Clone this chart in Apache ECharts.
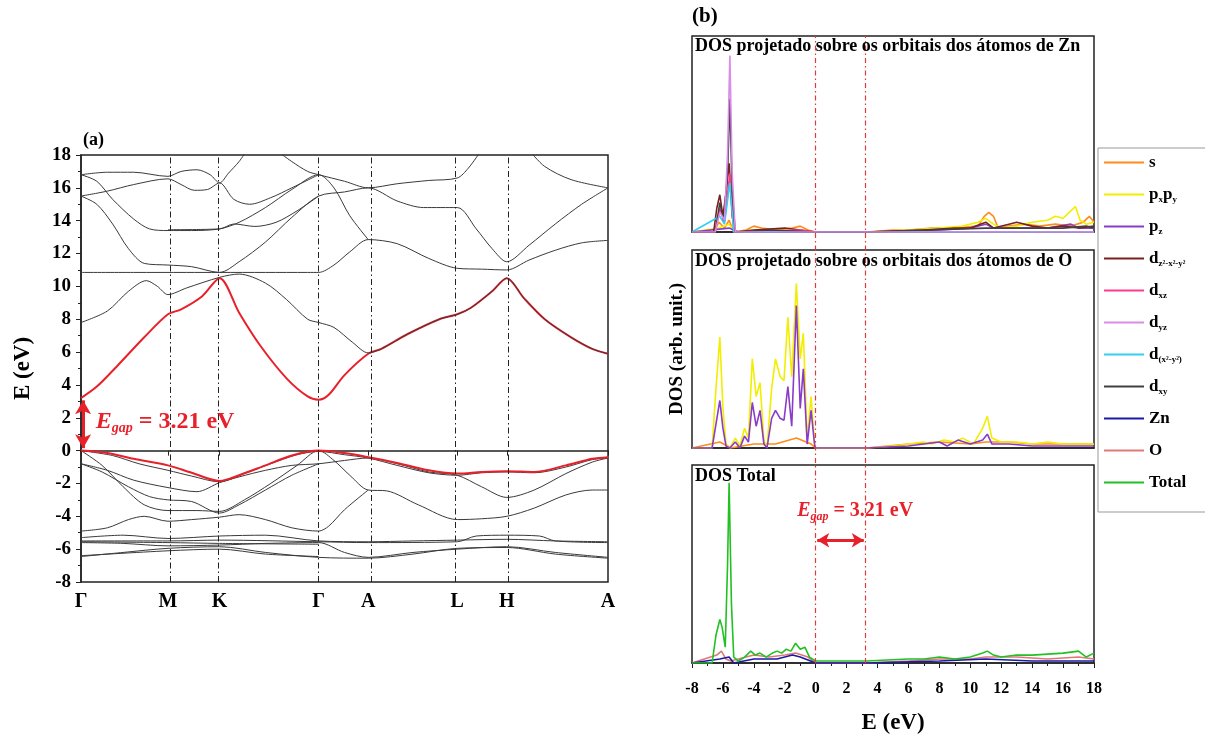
<!DOCTYPE html>
<html><head><meta charset="utf-8">
<script src="https://cdn.jsdelivr.net/npm/echarts@6/dist/echarts.min.js"></script>
<style>html,body{margin:0;padding:0;background:#fff}#c{width:1205px;height:738px}</style>
</head><body><div id="c"></div>
<script>
// ---------- Band structure (panel a) ----------
const kNodes = [0, 0.165, 0.263, 0.451, 0.545, 0.714, 0.808, 1.0];
const kLabels = ['Γ', 'M', 'K', 'Γ', 'A', 'L', 'H', 'A'];
const eTicks = [-8, 18, 2];
const egap = 3.21;

// conduction bands  [k, E(eV)]
const cb1 = [[0,3.2],[0.03,3.9],[0.07,5.2],[0.12,6.9],[0.165,8.3],[0.19,8.6],[0.23,9.4],[0.263,10.5],[0.3,8.4],[0.34,6.4],[0.39,4.4],[0.43,3.3],[0.451,3.1],[0.47,3.4],[0.5,4.6],[0.545,5.9],[0.57,6.2],[0.62,7.1],[0.68,8.0],[0.714,8.3],[0.74,8.7],[0.78,9.7],[0.808,10.5],[0.84,9.3],[0.88,8.0],[0.93,6.9],[0.97,6.2],[1,5.9]];
const cb2 = [[0,7.8],[0.05,8.5],[0.09,9.7],[0.124,10.35],[0.145,10.0],[0.165,9.5],[0.2,9.9],[0.263,10.55],[0.3,10.75],[0.35,10.2],[0.39,9.2],[0.43,8.0],[0.451,7.8],[0.48,7.5],[0.515,6.6],[0.545,5.95],[0.57,6.2],[0.62,7.1],[0.68,8.0],[0.714,8.3],[0.74,8.7],[0.78,9.7],[0.808,10.5],[0.84,9.3],[0.88,8.0],[0.93,6.9],[0.97,6.2],[1,5.9]];
const cb3 = [[0,10.85],[0.1,10.85],[0.2,10.85],[0.263,10.85],[0.35,10.85],[0.43,10.85],[0.451,10.85],[0.48,11.3],[0.51,12.1],[0.545,12.85],[0.6,12.6],[0.66,11.7],[0.714,11.1],[0.76,11.05],[0.808,11.0],[0.85,11.6],[0.9,12.2],[0.95,12.65],[1,12.8]];
const cb4 = [[0,15.5],[0.03,15.0],[0.06,13.8],[0.09,12.3],[0.12,11.4],[0.165,11.3],[0.21,11.2],[0.263,10.85],[0.3,11.5],[0.35,12.7],[0.4,14.2],[0.451,15.5],[0.5,15.75],[0.545,16.0],[0.6,15.2],[0.65,14.8],[0.714,14.8],[0.75,13.5],[0.78,12.3],[0.808,11.5],[0.85,12.5],[0.9,13.8],[0.95,15.0],[1,16.0]];
const cb5 = [[0,16.8],[0.03,16.4],[0.06,15.3],[0.1,14.1],[0.13,13.5],[0.165,13.4],[0.21,13.4],[0.263,13.5],[0.3,13.9],[0.35,14.8],[0.4,15.9],[0.451,16.8],[0.48,16.0],[0.51,14.3],[0.545,12.85]];
const cb6 = [[0.165,13.45],[0.263,13.5],[0.29,13.8],[0.33,13.65],[0.37,13.9],[0.41,14.6],[0.451,15.5]];
const cb7 = [[0,16.8],[0.05,16.95],[0.1,16.95],[0.165,16.7],[0.19,17.0],[0.22,17.1],[0.245,16.8],[0.263,16.3],[0.28,16.9],[0.3,17.6],[0.315,18.3]];
const cb8 = [[0,15.5],[0.05,15.8],[0.1,16.2],[0.165,16.55],[0.19,16.2],[0.215,15.85],[0.24,15.9],[0.263,16.3],[0.29,15.3],[0.32,15.0],[0.36,15.4],[0.4,16.0],[0.451,16.8]];
const cb9 = [[0.37,18.3],[0.4,17.6],[0.43,17.0],[0.451,16.8],[0.5,16.4],[0.545,16.0],[0.6,16.25],[0.66,16.45],[0.714,16.6],[0.735,17.2],[0.76,18.3]];
const cb10 = [[0.85,18.3],[0.88,17.3],[0.93,16.5],[1,16.0]];

// valence bands
const vb1 = [[0,0],[0.05,-0.15],[0.1,-0.5],[0.165,-0.9],[0.21,-1.35],[0.263,-1.85],[0.3,-1.5],[0.35,-0.9],[0.4,-0.3],[0.451,0],[0.5,-0.15],[0.545,-0.4],[0.6,-0.75],[0.66,-1.2],[0.714,-1.4],[0.76,-1.3],[0.808,-1.25],[0.86,-1.3],[0.92,-0.9],[0.97,-0.5],[1,-0.4]];
const vb1b = [[0,0],[0.06,-0.3],[0.11,-0.8],[0.165,-1.2],[0.21,-1.55],[0.263,-1.9],[0.31,-1.4],[0.36,-0.8],[0.41,-0.25],[0.451,-0.05],[0.5,-0.25],[0.545,-0.45],[0.6,-0.9],[0.66,-1.35],[0.714,-1.5],[0.76,-1.35],[0.808,-1.3],[0.86,-1.35],[0.92,-1.0],[0.97,-0.55],[1,-0.45]];
const vb2 = [[0,-0.8],[0.05,-1.2],[0.1,-1.8],[0.165,-2.25],[0.22,-2.5],[0.263,-1.95],[0.3,-1.6],[0.35,-1.2],[0.4,-0.9],[0.451,-0.8],[0.5,-0.6],[0.545,-0.45],[0.6,-0.8],[0.66,-1.3],[0.714,-1.5],[0.76,-2.2],[0.808,-2.85],[0.86,-2.4],[0.92,-1.4],[0.97,-0.7],[1,-0.45]];
const vb3 = [[0,-0.8],[0.04,-1.3],[0.09,-2.2],[0.13,-2.8],[0.165,-3.0],[0.21,-3.1],[0.263,-3.8],[0.3,-3.3],[0.35,-2.4],[0.4,-1.5],[0.451,-0.8]];
const vb4 = [[0,0],[0.04,-0.9],[0.08,-2.2],[0.12,-3.3],[0.165,-3.65],[0.22,-3.65],[0.263,-3.7],[0.31,-3.0],[0.36,-2.0],[0.41,-0.9],[0.451,0],[0.48,-0.6],[0.51,-1.5],[0.545,-2.4],[0.58,-2.45],[0.64,-3.3],[0.714,-4.2],[0.76,-4.15],[0.808,-4.0],[0.86,-3.5],[0.92,-2.7],[0.97,-2.4],[1,-2.4]];
const vb5 = [[0,-4.9],[0.05,-4.7],[0.09,-4.2],[0.12,-4.0],[0.165,-4.3],[0.21,-4.2],[0.263,-4.05],[0.3,-3.9],[0.35,-4.2],[0.4,-4.7],[0.451,-4.9],[0.47,-4.6],[0.5,-3.6],[0.545,-2.4]];
const vd1 = [[0,-5.3],[0.08,-5.15],[0.165,-5.35],[0.263,-5.2],[0.35,-5.15],[0.451,-5.5],[0.545,-5.55],[0.63,-5.5],[0.714,-5.45],[0.808,-5.4],[0.9,-5.5],[1,-5.55]];
const vd2 = [[0,-5.5],[0.165,-5.5],[0.263,-5.45],[0.451,-5.55],[0.545,-5.6],[0.714,-5.55],[0.75,-5.2],[0.808,-5.15],[0.87,-5.2],[0.9,-5.5],[1,-5.6]];
const vd3 = [[0,-5.6],[0.08,-5.65],[0.165,-5.8],[0.263,-5.75],[0.35,-5.65],[0.451,-5.6],[0.5,-6.2],[0.545,-6.5],[0.63,-6.2],[0.714,-6.0],[0.808,-5.85],[0.9,-6.2],[1,-6.5]];
const vd4 = [[0,-6.45],[0.08,-6.2],[0.165,-5.95],[0.263,-5.85],[0.35,-6.2],[0.451,-6.5],[0.545,-6.55],[0.63,-6.3],[0.714,-5.95],[0.808,-5.9],[0.9,-6.3],[1,-6.55]];
const vd5 = [[0,-6.4],[0.165,-6.1],[0.263,-6.0],[0.35,-6.3],[0.451,-6.45]];
const vd6 = [[0,-5.55],[0.165,-5.6],[0.263,-5.65],[0.451,-5.7]];

const blackBands = [cb3, cb4, cb5, cb6, cb7, cb8, cb9, cb10, vb1b, vb2, vb3, vb4, vb5, vd1, vd2, vd3, vd4, vd5, vd6];
const redBands = [cb1, vb1];

// ---------- DOS (panel b)  [E(eV), DOS arb.] ----------
const dosTicks = [-8, 18, 2];
const panelTitles = ['DOS projetado sobre os orbitais dos átomos de Zn', 'DOS projetado sobre os orbitais dos átomos de O', 'DOS Total'];

const zn_s = [[-8,0],[-6.6,0],[-6.25,0.05],[-5.9,0.02],[-5.6,0.06],[-5.3,0],[-4.5,0.01],[-4,0.03],[-3.5,0.02],[-2.5,0.01],[-1.5,0.02],[-1,0.03],[-0.5,0.01],[0,0],[3.3,0],[5,0.01],[6,0.01],[7.5,0.02],[9,0.02],[10.5,0.03],[10.9,0.08],[11.2,0.1],[11.5,0.08],[11.8,0.02],[12.5,0.03],[13.5,0.04],[14.5,0.03],[15.5,0.04],[16.5,0.03],[17.3,0.05],[17.7,0.08],[18,0.05]];
const zn_pxpy = [[-8,0],[-6.3,0.02],[-5.6,0.04],[-5.2,0],[-4,0.01],[-2,0.01],[0,0],[3.3,0],[6,0.01],[8,0.02],[9.5,0.03],[10.5,0.05],[11,0.07],[11.5,0.04],[12,0.02],[13,0.03],[14,0.05],[15,0.06],[15.5,0.08],[16,0.07],[16.4,0.1],[16.8,0.13],[17.1,0.06],[17.5,0.04],[18,0.05]];
const zn_pz = [[-8,0],[-5.6,0.02],[-5,0],[0,0],[3.3,0],[8,0.01],[10,0.02],[11,0.04],[11.5,0.02],[13,0.02],[15,0.02],[16.5,0.04],[17,0.02],[18,0.02]];
const zn_dz2 = [[-8,0],[-6.6,0],[-6.4,0.12],[-6.2,0.19],[-6.0,0.08],[-5.8,0.2],[-5.6,0.35],[-5.4,0.08],[-5.2,0],[-4,0.01],[-2,0.02],[-1,0.01],[0,0],[3.3,0],[7,0.01],[9,0.02],[10,0.02],[11,0.05],[11.5,0.02],[12.5,0.04],[13,0.05],[14,0.03],[15,0.02],[16,0.03],[17,0.02],[18,0.03]];
const zn_dxz = [[-8,0],[-6.5,0],[-6.2,0.12],[-5.9,0.05],[-5.55,0.3],[-5.3,0],[-1,0.01],[0,0],[18,0]];
const zn_dyz = [[-8,0],[-6.5,0],[-6.2,0.1],[-5.9,0.06],[-5.7,0.4],[-5.55,0.9],[-5.4,0.3],[-5.2,0],[18,0]];
const zn_dx2y2 = [[-8,0],[-6.2,0.08],[-5.9,0.04],[-5.55,0.25],[-5.3,0],[18,0]];
const zn_dxy = [[-8,0],[-6.5,0],[-6.2,0.15],[-5.95,0.06],[-5.7,0.3],[-5.55,0.68],[-5.4,0.2],[-5.2,0],[-3,0.01],[0,0],[3.3,0],[11,0.02],[16,0.02],[17.5,0.03],[18,0.02]];

const o_s = [[-8,0],[-6.2,0.03],[-5.5,0],[-4,0.02],[-2.6,0.02],[-1.25,0.05],[-0.3,0.02],[0,0],[3.3,0],[6,0.02],[8,0.03],[10,0.02],[11,0.03],[12.5,0.03],[14,0.02],[16,0.02],[18,0.02]];
const o_pxpy = [[-8,0],[-6.7,0],[-6.45,0.3],[-6.2,0.56],[-6.0,0.2],[-5.8,0.02],[-5.55,0],[-5.2,0.05],[-4.9,0.01],[-4.6,0.1],[-4.35,0.05],[-4.1,0.45],[-3.85,0.26],[-3.6,0.33],[-3.35,0.04],[-3.15,0],[-2.85,0.3],[-2.6,0.45],[-2.3,0.36],[-2.05,0.34],[-1.8,0.66],[-1.55,0.36],[-1.25,0.83],[-1.0,0.45],[-0.8,0.58],[-0.55,0.05],[-0.3,0.26],[-0.05,0],[3.3,0],[5,0.01],[6,0.02],[7,0.03],[7.5,0.02],[8.3,0.04],[9,0.03],[9.5,0.05],[10.2,0.02],[10.8,0.1],[11.1,0.16],[11.4,0.05],[12,0.03],[13,0.03],[14,0.02],[15,0.03],[16,0.02],[17,0.02],[18,0.02]];
const o_pz = [[-8,0],[-6.7,0],[-6.45,0.12],[-6.2,0.24],[-6.0,0.1],[-5.8,0.01],[-5.55,0],[-5.2,0.03],[-4.9,0],[-4.6,0.06],[-4.35,0.03],[-4.1,0.23],[-3.85,0.11],[-3.6,0.19],[-3.35,0.02],[-3.15,0],[-2.85,0.15],[-2.6,0.19],[-2.3,0.15],[-2.05,0.14],[-1.8,0.31],[-1.55,0.11],[-1.25,0.72],[-1.0,0.2],[-0.8,0.4],[-0.55,0.02],[-0.3,0.19],[-0.05,0],[3.3,0],[6,0.01],[7,0.02],[8,0.03],[8.5,0.01],[9.2,0.04],[10,0.02],[10.8,0.04],[11.1,0.07],[11.4,0.02],[12.5,0.02],[14,0.01],[16,0.01],[18,0.01]];

const tot_total = [[-8,0],[-6.7,0],[-6.45,0.14],[-6.2,0.22],[-6.05,0.18],[-5.85,0.08],[-5.7,0.5],[-5.6,0.91],[-5.45,0.3],[-5.3,0.03],[-5,0.01],[-4.6,0.03],[-4.2,0.06],[-3.9,0.04],[-3.6,0.05],[-3.2,0.03],[-2.8,0.05],[-2.5,0.06],[-2.2,0.05],[-1.9,0.07],[-1.6,0.06],[-1.3,0.1],[-1.0,0.07],[-0.7,0.08],[-0.4,0.03],[0,0.01],[3.3,0.01],[6,0.02],[7,0.02],[8,0.03],[9,0.02],[10,0.03],[10.8,0.05],[11.1,0.06],[11.5,0.04],[12,0.03],[13,0.04],[14,0.04],[15,0.045],[16,0.05],[17,0.06],[17.5,0.03],[18,0.05]];
const tot_zn = [[-8,0],[-6.2,0.02],[-5.6,0.03],[-5.3,0],[-4,0.02],[-2.5,0.02],[-1.5,0.04],[-1,0.03],[0,0],[3.3,0],[8,0.01],[11,0.02],[14,0.01],[18,0.01]];
const tot_o = [[-8,0],[-6.4,0.04],[-6.1,0.06],[-5.8,0.02],[-5.5,0.01],[-4,0.04],[-3,0.03],[-2,0.04],[-1.3,0.05],[-0.5,0.03],[0,0],[3.3,0],[6,0.01],[8,0.02],[10,0.02],[11,0.03],[13,0.03],[15,0.02],[17,0.03],[18,0.02]];

const legendNames = ['s','pxpy','pz','dz2','dxz','dyz','dx2y2','dxy','Zn','O','Total'];
const legendRich = {
  s:'{b|s}', pxpy:'{b|p}{u|x}{b|p}{u|y}', pz:'{b|p}{u|z}', dz2:'{b|d}{u|z²-x²-y²}',
  dxz:'{b|d}{u|xz}', dyz:'{b|d}{u|yz}', dx2y2:'{b|d}{u|(x²-y²)}', dxy:'{b|d}{u|xy}',
  Zn:'{b|Zn}', O:'{b|O}', Total:'{b|Total}'
};
const colors = {s:'#ff8c1a', pxpy:'#f2ee00', pz:'#8a3cc8', dz2:'#7b2020', dxz:'#ff3c8c', dyz:'#d98ce8', dx2y2:'#30d0f0', dxy:'#404040', Zn:'#1a1aa8', O:'#e07878', Total:'#22c022'};

const panelSeries = [
  [['s',zn_s],['pxpy',zn_pxpy],['pz',zn_pz],['dz2',zn_dz2],['dxz',zn_dxz],['dx2y2',zn_dx2y2],['dxy',zn_dxy],['dyz',zn_dyz]],
  [['s',o_s],['pxpy',o_pxpy],['pz',o_pz]],
  [['O',tot_o],['Zn',tot_zn],['Total',tot_total]]
];

// ---------- build option ----------
const FONT = '"Liberation Serif", "DejaVu Serif", serif';
const RED = '#e8202a';
const chart = echarts.init(document.getElementById('c'), null, {renderer:'canvas'});

const grids = [
  {left:81, top:155, width:527, height:427},
  {left:692, top:36, width:402, height:196},
  {left:692, top:250, width:402, height:198},
  {left:692, top:465, width:402, height:198},
  {left:692, top:36, width:402, height:627}
].map(g => Object.assign({show:true, borderColor:'#222', borderWidth:1.5, backgroundColor:'transparent',
  containLabel:false, outerBoundsMode:'none'}, g));
grids[4].show = false;

const xAxes = [
  {gridIndex:0, type:'value', min:0, max:1,
   axisLine:{show:true, lineStyle:{color:'#222', width:1.5}},
   axisTick:{show:true, customValues:kNodes, length:5, lineStyle:{color:'#222'}},
   axisLabel:{show:true, customValues:kNodes, margin:10, color:'#000', fontFamily:FONT, fontWeight:'bold', fontSize:20,
     formatter:v => { const i = kNodes.findIndex(k => Math.abs(k-v) < 1e-6); return i >= 0 ? kLabels[i] : ''; }},
   splitLine:{show:false}},
];
for (let i = 1; i <= 4; i++) {
  const bottom = i === 3;
  xAxes.push({gridIndex:i, type:'value', min:dosTicks[0], max:dosTicks[1], interval:dosTicks[2], show:i !== 4,
    axisLine:{show:true, lineStyle:{color:'#222', width:1.5}},
    axisTick:{show:bottom, length:5, lineStyle:{color:'#222'}},
    minorTick:{show:bottom, splitNumber:2, length:3, lineStyle:{color:'#222'}},
    axisLabel:{show:bottom, color:'#000', fontFamily:FONT, fontWeight:'bold', fontSize:16, margin:18},
    splitLine:{show:false},
    name: bottom ? 'E (eV)' : '', nameLocation:'middle', nameGap:49,
    nameTextStyle:{color:'#000', fontFamily:FONT, fontWeight:'bold', fontSize:23}});
}
const yAxes = [
  {gridIndex:0, type:'value', min:eTicks[0], max:eTicks[1], interval:eTicks[2],
   axisLine:{show:true, lineStyle:{color:'#222', width:1.5}},
   axisTick:{show:true, length:5, lineStyle:{color:'#222'}},
   minorTick:{show:true, splitNumber:2, length:3, lineStyle:{color:'#222'}},
   axisLabel:{color:'#000', fontFamily:FONT, fontWeight:'bold', fontSize:19, margin:10},
   splitLine:{show:false},
   name:'E (eV)', nameLocation:'middle', nameGap:46,
   nameTextStyle:{color:'#000', fontFamily:FONT, fontWeight:'bold', fontSize:23}}
];
for (let i = 1; i <= 4; i++) {
  yAxes.push({gridIndex:i, type:'value', min:0, max:1, show:i !== 4,
    axisLine:{show:false}, axisTick:{show:false}, axisLabel:{show:false}, splitLine:{show:false},
    name: i === 2 ? 'DOS (arb. unit.)' : '', nameLocation:'middle', nameGap:5,
    nameTextStyle:{color:'#000', fontFamily:FONT, fontWeight:'bold', fontSize:19}});
}

const series = [];
const bandLine = (data, color, width, z) => ({type:'line', xAxisIndex:0, yAxisIndex:0, data, showSymbol:false, smooth:0.3,
  silent:true, lineStyle:{color, width}, z, animation:false});

// high-symmetry vertical lines (on a helper series)
series.push({type:'line', xAxisIndex:0, yAxisIndex:0, data:[], silent:true, animation:false,
  markLine:{silent:true, symbol:'none', label:{show:false},
    lineStyle:{color:'#222', width:1, type:[6,3,1.5,3]},
    data: kNodes.slice(1, -1).map(k => ({xAxis:k}))}});
blackBands.forEach(b => series.push(bandLine(b, '#3a3a3a', 1, 3)));
redBands.forEach(b => series.push(bandLine(b, RED, 2, 4)));
series.push(bandLine(cb2, '#3a3a3a', 1, 5));

// gap arrow (panel a)
series.push({type:'line', xAxisIndex:0, yAxisIndex:0, data:[], silent:true, animation:false, z:6,
  markLine:{silent:true, symbol:['arrow','arrow'], symbolSize:[12,14], label:{show:false},
    lineStyle:{color:RED, width:3, type:'solid'},
    data:[[{coord:[0.004, 0.15]}, {coord:[0.004, egap - 0.15]}]]},
  markPoint:{silent:true, symbol:'circle', symbolSize:0,
    data:[{coord:[0.028, 1.75], value:egap}],
    label:{show:true, position:'right', distance:0, color:RED,
      formatter:'{e|E}{g|gap}{t| = 3.21 eV}',
      rich:{e:{fontSize:24, fontStyle:'italic', fontWeight:'bold', fontFamily:FONT, color:RED},
            g:{fontSize:14, fontStyle:'italic', fontWeight:'bold', fontFamily:FONT, color:RED, padding:[14,0,0,0]},
            t:{fontSize:24, fontWeight:'bold', fontFamily:FONT, color:RED}}}}});

// DOS series
panelSeries.forEach((list, p) => {
  list.forEach(([name, data]) => series.push({type:'line', name, xAxisIndex:p+1, yAxisIndex:p+1, data,
    showSymbol:false, symbol:'none', smooth:false, silent:true, animation:false,
    color:colors[name], lineStyle:{color:colors[name], width:1.6}}));
});

// red dash-dot lines at 0 and Egap across all DOS panels
series.push({type:'line', xAxisIndex:4, yAxisIndex:4, data:[], silent:true, animation:false, z:7,
  markLine:{silent:true, symbol:'none', label:{show:false},
    lineStyle:{color:'#e03a3a', width:1.2, type:[5,3,1.5,3]},
    data:[{xAxis:0}, {xAxis:egap}]}});

// gap arrow (panel b, total)
series.push({type:'line', xAxisIndex:3, yAxisIndex:3, data:[], silent:true, animation:false, z:8,
  markLine:{silent:true, symbol:['arrow','arrow'], symbolSize:[11,12], label:{show:false},
    lineStyle:{color:RED, width:3, type:'solid'},
    data:[[{coord:[0.1, 0.62]}, {coord:[egap - 0.1, 0.62]}]]},
  markPoint:{silent:true, symbol:'circle', symbolSize:0,
    data:[{coord:[-1.2, 0.77], value:egap}],
    label:{show:true, position:'right', distance:0, color:RED,
      formatter:'{e|E}{g|gap}{t| = 3.21 eV}',
      rich:{e:{fontSize:20, fontStyle:'italic', fontWeight:'bold', fontFamily:FONT, color:RED},
            g:{fontSize:12, fontStyle:'italic', fontWeight:'bold', fontFamily:FONT, color:RED, padding:[12,0,0,0]},
            t:{fontSize:20, fontWeight:'bold', fontFamily:FONT, color:RED}}}}});

const titleStyle = size => ({color:'#000', fontFamily:FONT, fontWeight:'bold', fontSize:size});
const option = {
  backgroundColor:'#fff',
  animation:false,
  title:[
    {text:'(a)', left:83, top:131, padding:0, textStyle:titleStyle(18)},
    {text:'(b)', left:692, top:6, padding:0, textStyle:titleStyle(21)},
    {text:panelTitles[0], left:695, top:37, padding:0, textStyle:titleStyle(18)},
    {text:panelTitles[1], left:695, top:252, padding:0, textStyle:titleStyle(18)},
    {text:panelTitles[2], left:695, top:467, padding:0, textStyle:titleStyle(18)}
  ],
  legend:{data:legendNames, orient:'vertical', left:1098, top:148, width:120,
    icon:'rect', itemWidth:40, itemHeight:2, itemGap:11,
    padding:[4,20,19,6], backgroundColor:'#fff', borderColor:'#999', borderWidth:1,
    selectedMode:false,
    formatter:n => legendRich[n],
    textStyle:{color:'#000', lineHeight:21,
      rich:{b:{fontFamily:FONT, fontWeight:'bold', fontSize:17, color:'#000'},
            u:{fontFamily:FONT, fontWeight:'bold', fontSize:9, color:'#000', padding:[10,0,0,0]}}}},
  grid:grids, xAxis:xAxes, yAxis:yAxes, series
};
chart.setOption(option);
</script></body></html>
